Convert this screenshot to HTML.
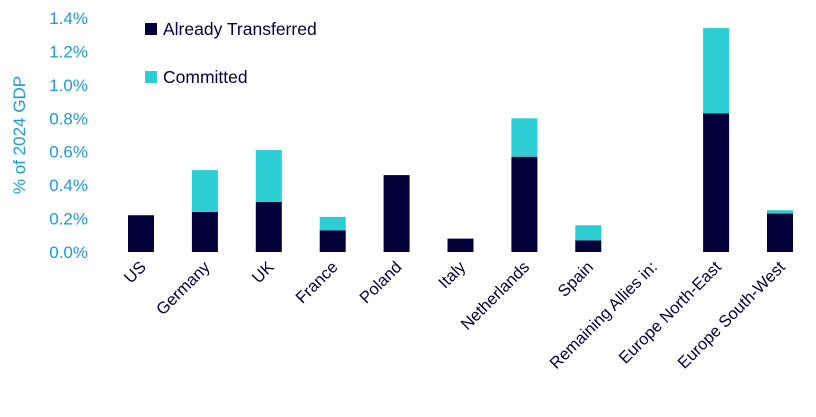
<!DOCTYPE html>
<html><head><meta charset="utf-8"><style>
body{margin:0;background:#fff;}
svg text{font-family:"Liberation Sans",Arial,sans-serif;}
</style></head><body>
<svg id="chart" width="816" height="412">
<g id="axis"></g><g id="bars"></g>
<text transform="translate(25,135) rotate(-90)" text-anchor="middle" font-size="17" fill="#1a9bd7">% of 2024 GDP</text>
<g>
<rect x="145" y="23" width="12" height="12" fill="#06003a"/>
<text x="163" y="35" font-size="17.5" fill="#06003a">Already Transferred</text>
<rect x="145" y="71" width="12" height="12" fill="#2dcdd4"/>
<text x="163" y="83" font-size="17.5" fill="#06003a">Committed</text>
</g>
</svg>
<script>
const categories=["US","Germany","UK","France","Poland","Italy","Netherlands","Spain","Remaining Allies in:","Europe North-East","Europe South-West"];
const transferred=[0.22,0.24,0.30,0.13,0.46,0.08,0.57,0.07,0,0.83,0.23];
const committed=[0,0.25,0.31,0.08,0,0,0.23,0.09,0,0.51,0.02];
const yTicks=[0,0.2,0.4,0.6,0.8,1.0,1.2,1.4];
const NS="http://www.w3.org/2000/svg";
const y=v=>252-v/1.4*234;
const x=i=>141+i*63.9;
const bw=26;
const ax=document.getElementById('axis'),bg=document.getElementById('bars');
function mk(tag,attrs,parent,txt){const e=document.createElementNS(NS,tag);for(const k in attrs)e.setAttribute(k,attrs[k]);if(txt!==undefined)e.textContent=txt;parent.appendChild(e);return e;}
yTicks.forEach(t=>{
 const e=mk('text',{x:88,y:y(t)+6,'text-anchor':'end','font-size':17,fill:'#1a9bd7'},ax,t.toFixed(1)+'%');
 
 
});
categories.forEach((c,i)=>{
 const cx=x(i);
 if(transferred[i]>0){
  const r=mk('rect',{x:cx-bw/2,y:y(transferred[i]),width:bw,height:y(0)-y(transferred[i]),fill:'#06003a'},bg);
  
  
 }
 if(committed[i]>0){
  const top=transferred[i]+committed[i];
  const r=mk('rect',{x:cx-bw/2,y:y(top),width:bw,height:y(transferred[i])-y(top),fill:'#2dcdd4'},bg);
  
  
 }
 const l=mk('text',{transform:`translate(${cx+6},${268}) rotate(-45)`,'text-anchor':'end','font-size':16.5,fill:'#06003a'},ax,c);
 
 
});
</script>
</body></html>
